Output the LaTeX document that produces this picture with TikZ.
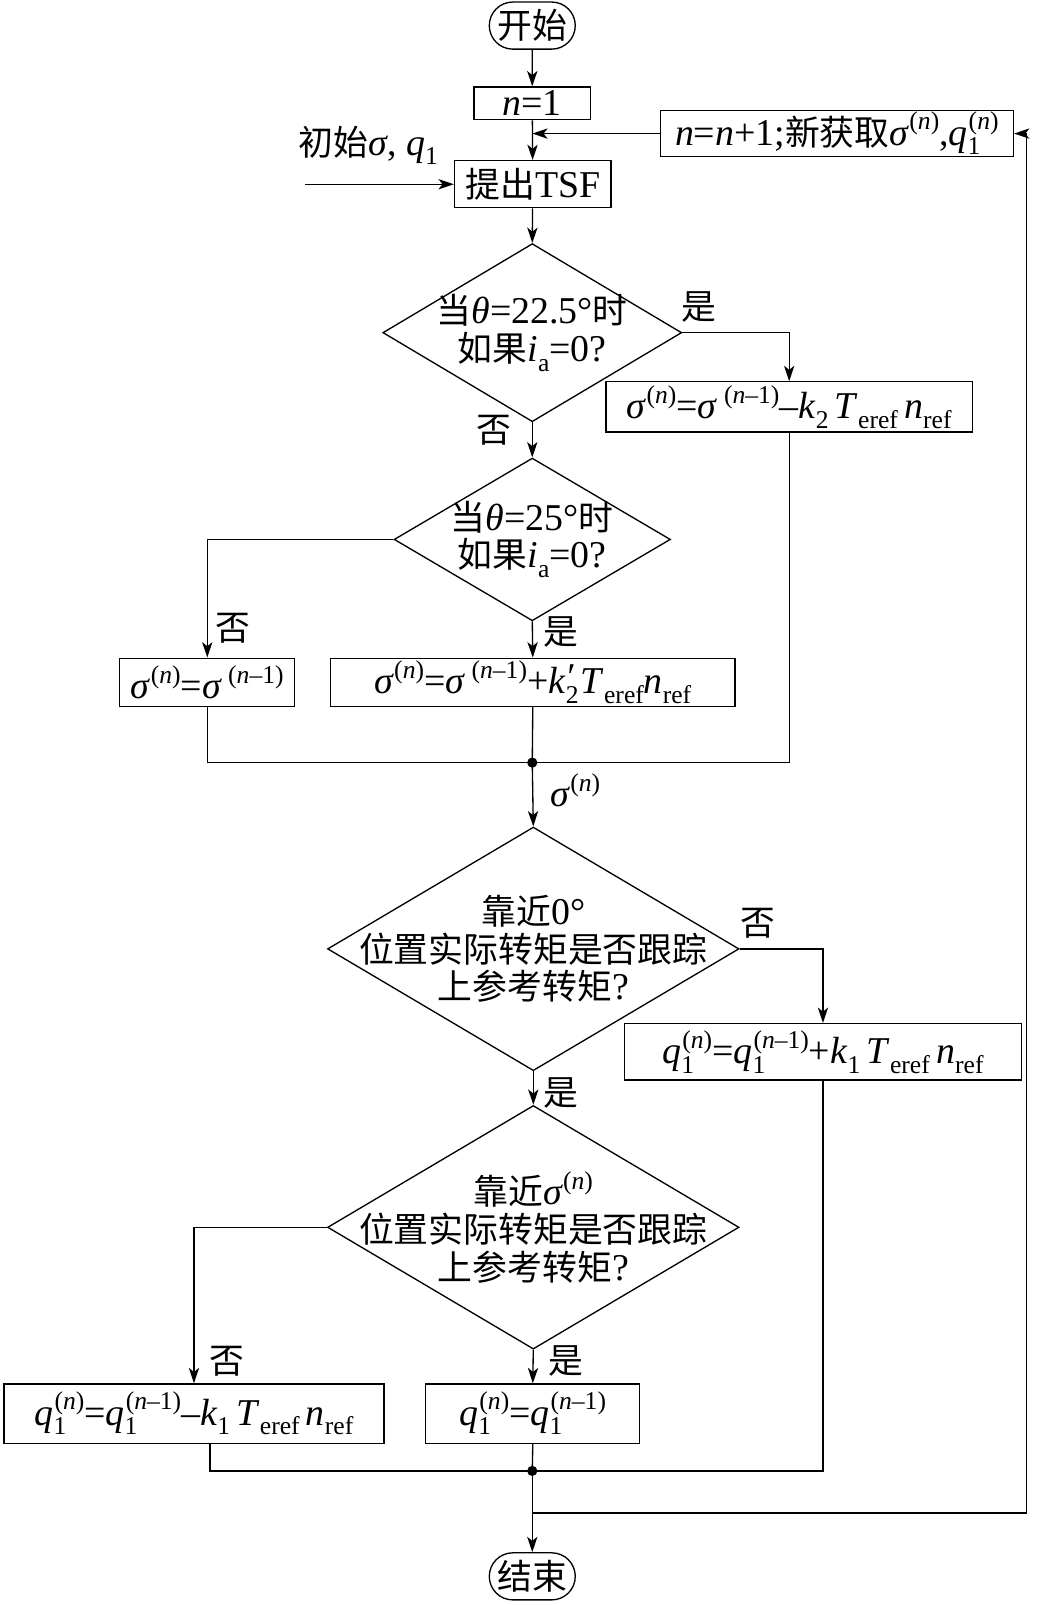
\documentclass[tikz,border=0pt]{standalone}
\usepackage{fontspec}
\setmainfont{Liberation Serif}
\newfontfamily\cjk[Scale=0.92]{Noto Sans CJK SC}
\usetikzlibrary{shapes.geometric,shapes.misc,arrows.meta}
\newcommand\zh[1]{{\cjk #1}}
\newcommand\V[1]{\textit{#1}}
\newcommand\sps[1]{\raisebox{0.40em}{\fontsize{25}{25}\selectfont #1}}
\newcommand\sbs[1]{\raisebox{-0.26em}{\fontsize{25}{25}\selectfont #1}}
\newcommand\sg{\V{σ}}
\newcommand\pN{\sps{(\V{n})}}
\newcommand\pNm{\sps{(\V{n}–1)}}
\newcommand\qone[1]{\V{q}\rlap{\sbs{1}}\kern1pt\sps{#1}}
\newcommand\Teref{\V{T}\sbs{eref}}
\newcommand\nref{\V{n}\sbs{ref}}
\begin{document}
\begin{tikzpicture}[x=1pt,y=-1pt,
  font=\fontsize{37}{37}\selectfont,
  lw/.style={line width=1.3pt},
  box/.style={draw,lw,rectangle,inner sep=0pt},
  dia/.style={draw,lw,diamond,inner sep=0pt},
  term/.style={draw,lw,rounded rectangle,inner sep=0pt,minimum width=84pt,minimum height=46pt},
  arr/.style={lw,-{Stealth[length=15pt,width=10pt,inset=4pt]}},
  ln/.style={lw},
  lab/.style={inner sep=0pt}]
\useasboundingbox (0,0) rectangle (1018,1568);
% nodes
\node[term] (start) at (520,25) {\zh{开始}};
\node[box,minimum width=114pt,minimum height=32pt] (n1) at (520,101) {\V{n}=1};
\node[box,minimum width=345pt,minimum height=45pt] (upd) at (817.5,130.5)
  {\V{n}=\V{n}+1;\zh{新获取}\sg\pN,\qone{(\V{n})}};
\node[box,minimum width=153pt,minimum height=46pt] (tsf) at (520.5,180) {\zh{提出}TSF};
\node[lab] (init) at (360,142) {\zh{初始}\sg, \V{q}\sbs{1}};
\coordinate (inS) at (298,180);

\node[dia,minimum width=292pt,minimum height=174pt] (d1) at (520,325) {};
\node[lab,align=center] (d1t) at (520,325) {\zh{当}\V{θ}=22.5°\zh{时}\\\zh{如果}\V{i}\sbs{a}=0?};
\node[box,minimum width=358pt,minimum height=49pt] (b1) at (771,397.5)
  {\sg\pN=\sg\,\pNm–\V{k}\sbs{2}\,\Teref\,\nref};

\node[dia,minimum width=270pt,minimum height=159pt] (d2) at (520,527) {};
\node[lab,align=center] (d2t) at (520,527) {\zh{当}\V{θ}=25°\zh{时}\\\zh{如果}\V{i}\sbs{a}=0?};
\node[box,minimum width=171pt,minimum height=47pt] (b2) at (202.5,666.5) {\sg\pN=\sg\,\pNm};
\node[box,minimum width=395pt,minimum height=47pt] (b3) at (520.5,666.5)
  {\sg\pN=\sg\,\pNm+\V{k}\rlap{\sbs{2}}\raisebox{0.1em}{\V{′}}\,\Teref\nref};
\coordinate (m1) at (520,745);
\node[lab] (sn) at (562,772) {\sg\pN};

\node[dia,minimum width=402pt,minimum height=238pt] (d3) at (521,927) {};
\node[lab,align=center] (d3t) at (521,927) {\zh{靠近}0°\\\zh{位置实际转矩是否跟踪}\\\zh{上参考转矩}?};
\node[box,minimum width=388pt,minimum height=55pt] (b4) at (804,1027.5)
  {\qone{(\V{n})}=\qone{(\V{n}–1)}+\V{k}\sbs{1}\,\Teref\,\nref};

\node[dia,minimum width=402pt,minimum height=238pt] (d4) at (521,1199) {};
\node[lab,align=center] (d4t) at (521,1199) {\zh{靠近}\sg\pN\\\zh{位置实际转矩是否跟踪}\\\zh{上参考转矩}?};
\node[box,minimum width=371pt,minimum height=58pt] (b5) at (189.5,1381)
  {\qone{(\V{n})}=\qone{(\V{n}–1)}–\V{k}\sbs{1}\,\Teref\,\nref};
\node[box,minimum width=209pt,minimum height=58pt] (b6) at (520.5,1381)
  {\qone{(\V{n})}=\qone{(\V{n}–1)}};
\coordinate (m2) at (520,1437);
\coordinate (m2l) at (205,1437);
\coordinate (fb) at (520,1478);
\coordinate (fbr) at (1003,1478);
\node[term] (end) at (520,1540) {\zh{结束}};

% branch labels
\node[lab] (l1) at (683,300) {\zh{是}};
\node[lab] (l2) at (483,420) {\zh{否}};
\node[lab] (l3) at (228,614) {\zh{否}};
\node[lab] (l4) at (548,617) {\zh{是}};
\node[lab] (l5) at (740,902) {\zh{否}};
\node[lab] (l6) at (548,1068) {\zh{是}};
\node[lab] (l7) at (222,1330) {\zh{否}};
\node[lab] (l8) at (553,1330) {\zh{是}};

% connectors
\draw[arr] (start) -- (n1);
\draw[arr] (n1) -- (tsf);
\draw[arr] (upd.west) -- (upd.west -| n1.south);
\draw[arr] (inS) -- (tsf.west);
\draw[arr] (tsf) -- (d1.north);
\draw[arr] (d1.east) -| (b1.north);
\draw[arr] (d1.south) -- (d2.north);
\draw[arr] (d2.west) -| (b2.north);
\draw[arr] (d2.south) -- (b3.north);
\draw[ln] (b2.south) |- (m1) -| (b1.south);
\draw[ln] (b3.south) -- (m1);
\fill (m1) circle (5pt);
\draw[arr] (m1) -- (d3.north);
\draw[arr] (d3.east) -| (b4.north);
\draw[arr] (d3.south) -- (d4.north);
\draw[arr] (d4.west) -| (b5.north);
\draw[arr] (d4.south) -- (b6.north);
\draw[ln] (m2l |- b5.south) -- (m2l) -- (m2) -| (b4.south);
\draw[ln] (b6.south) -- (m2);
\fill (m2) circle (5pt);
\draw[arr] (m2) -- (end);
\draw[arr] (fb) -- (fbr) |- (upd.east);
\end{tikzpicture}
\end{document}
